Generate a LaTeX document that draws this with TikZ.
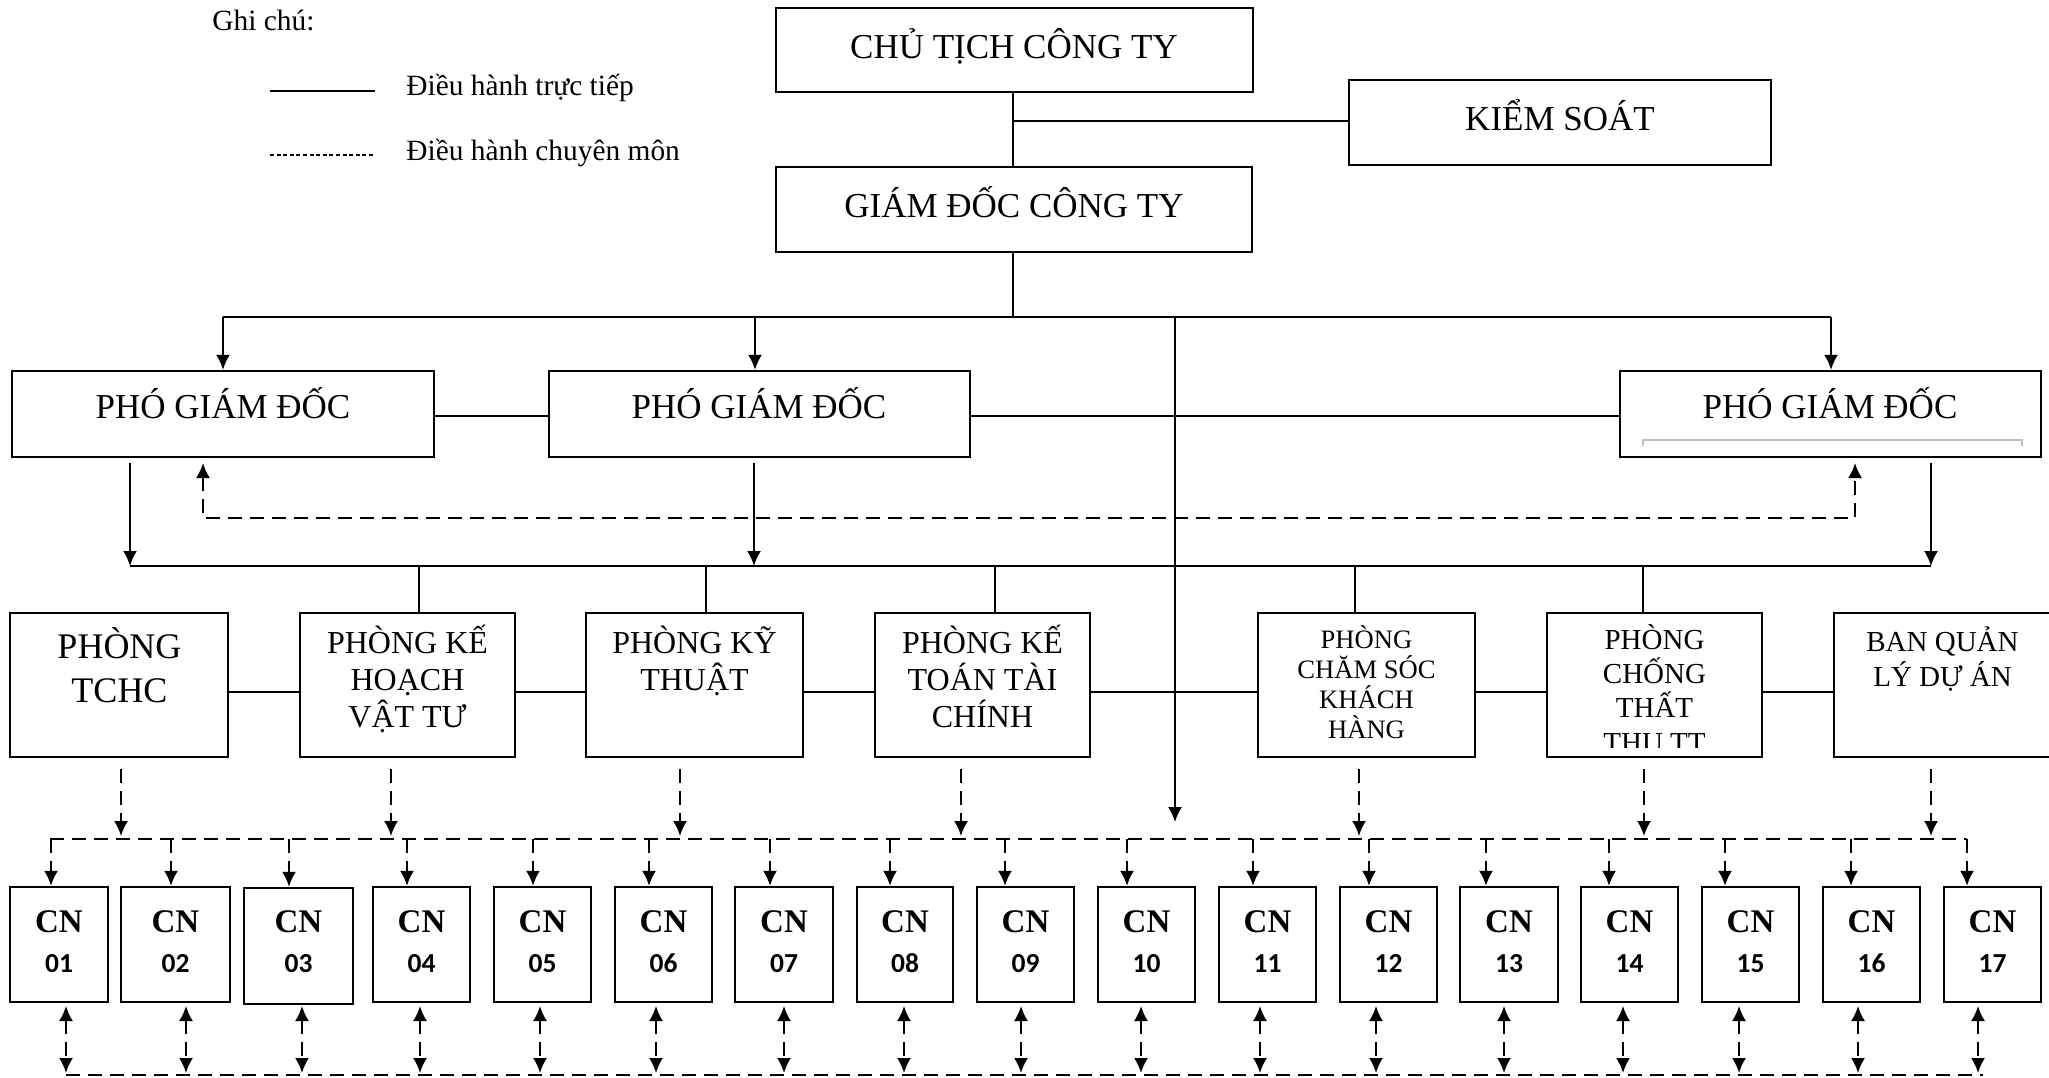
\documentclass[tikz,border=0pt]{standalone}
\usepackage{fontspec}
\setmainfont{Liberation Serif}
\newfontfamily\numfont{Carlito}
\usetikzlibrary{arrows.meta,fit}
\newcommand{\mlines}[3]{{\fontsize{#1}{#2}\selectfont\lineskiplimit=-\maxdimen\vtop{\halign{\hfil##\hfil\cr#3\crcr}}}}
\tikzset{
  obox/.style={draw, line width=1.2pt, inner sep=0pt},
  thinln/.style={line width=1pt},
  conn/.style={line width=1.2pt},
  arr/.style={-{Latex[length=7.5pt,width=7pt]}},
  dsh/.style={line width=1pt, dash pattern=on 7pt off 4pt},
  darr/.style={dsh, -{Latex[length=7.5pt,width=7pt]}},
  bidarr/.style={dsh, {Latex[length=7.5pt,width=7pt]}-{Latex[length=7.5pt,width=7pt]}},
  lbl/.style={anchor=base, inner sep=0pt},
  bigtxt/.style={font=\fontsize{17.5}{21}\selectfont},
  legtxt/.style={font=\fontsize{14.7}{17}\selectfont},
  cntxt/.style={font=\fontsize{16.5}{19}\selectfont\bfseries},
  numtxt/.style={font=\numfont\bfseries\fontsize{13.75}{16}\selectfont}
}
\begin{document}
\begin{tikzpicture}[x=0.5pt,y=-0.5pt]
\useasboundingbox (0,0) rectangle (2049,1077);

% legend
\node[lbl, anchor=base west, legtxt] (gc) at (212,30) {Ghi chú:};
\coordinate (ls1) at (270,91); \coordinate (ls2) at (375,91);
\draw[conn] (ls1) -- (ls2);
\node[lbl, anchor=base west, legtxt] (l1) at (406,95) {Điều hành trực tiếp};
\coordinate (ld1) at (270,155); \coordinate (ld2) at (375,155);
\draw[line width=1pt, dash pattern=on 2pt off 1.3pt] (ld1) -- (ld2);
\node[lbl, anchor=base west, legtxt] (l2) at (406,160) {Điều hành chuyên môn};

% top boxes
\node[obox, fit={(776,8) (1253,92)}] (ct) {};
\node[lbl, bigtxt] (tct) at (1014,58) {CHỦ TỊCH CÔNG TY};
\node[obox, fit={(1349,80) (1771,165)}] (ks) {};
\node[lbl, bigtxt] (tks) at (1560,130) {KIỂM SOÁT};
\node[obox, fit={(776,167) (1252,252)}] (gd) {};
\node[lbl, bigtxt] (tgd) at (1014,217) {GIÁM ĐỐC CÔNG TY};
\draw[thinln] (ct.south -| 1013,0) -- (gd.north -| 1013,0);
\coordinate (kj) at (1013,121);
\draw[conn] (kj) -- (kj -| ks.west);

% bus 1
\coordinate (bus1L) at (223,317); \coordinate (bus1R) at (1831,317);
\draw[thinln] (gd.south -| 1013,0) -- (1013,317);
\draw[conn] (bus1L) -- (bus1R);

% PGD boxes
\node[obox, fit={(12,371) (434,457)}] (p1) {};
\node[obox, fit={(549,371) (970,457)}] (p2) {};
\node[obox, fit={(1620,371) (2041,457)}] (p3) {};
\node[lbl, bigtxt] (tp1) at (223,418) {PHÓ GIÁM ĐỐC};
\node[lbl, bigtxt] (tp2) at (759,418) {PHÓ GIÁM ĐỐC};
\node[lbl, bigtxt] (tp3) at (1830,418) {PHÓ GIÁM ĐỐC};
\draw[black!25, line width=0.8pt] (1643,446) -- (1643,440) -- (2022,440) -- (2022,446);
\draw[thinln, arr] (bus1L) -- (bus1L |- p1.north);
\draw[thinln, arr] (755,317) -- (p2.north -| 755,0);
\draw[thinln, arr] (bus1R) -- (bus1R |- p3.north);
\draw[conn] (p1.east |- 0,416) -- (p2.west |- 0,416);
\draw[conn] (p2.east |- 0,416) -- (p3.west |- 0,416);

% dashed feedback to PGD 1 and 3
\draw[bidarr] (203,463) -- (203,518) -- (1855,518) -- (1855,463);

% bus 2
\coordinate (bus2L) at (130,566); \coordinate (bus2R) at (1931,566);
\draw[thinln, arr] (130,463) -- (bus2L);
\draw[thinln, arr] (754,463) -- (754,566);
\draw[thinln, arr] (1931,463) -- (bus2R);
\draw[conn] (bus2L) -- (bus2R);

% departments
\node[obox, fit={(10,613) (228,757)}] (tchc) {};
\node[obox, fit={(300,613) (515,757)}] (kh) {};
\node[obox, fit={(586,613) (803,757)}] (kt) {};
\node[obox, fit={(875,613) (1090,757)}] (kttc) {};
\node[obox, fit={(1258,613) (1475,757)}] (cskh) {};
\node[obox, fit={(1547,613) (1762,757)}] (ctt) {};
\begin{scope}
\clip (0,0) rectangle (2049,1077);
\node[obox, fit={(1834,613) (2064,757)}] (bql) {};
\end{scope}

\node[lbl] (ttchc) at (119.5,658) {\mlines{18}{22}{PHÒNG\cr TCHC}};
\node[lbl] (tkh) at (407.5,653) {\mlines{16}{18.5}{PHÒNG KẾ\cr HOẠCH\cr VẬT TƯ}};
\node[lbl] (tkt) at (694.5,653) {\mlines{16}{18.5}{PHÒNG KỸ\cr THUẬT}};
\node[lbl] (tkttc) at (982.5,653) {\mlines{16}{18.5}{PHÒNG KẾ\cr TOÁN TÀI\cr CHÍNH}};
\node[lbl] (tcskh) at (1366.5,648) {\mlines{13.3}{15}{PHÒNG\cr CHĂM SÓC\cr KHÁCH\cr HÀNG}};
\begin{scope}
\clip (1547,613) rectangle (1762,747);
\node[lbl] (tctt) at (1654.5,649) {\mlines{14.5}{17.2}{PHÒNG\cr CHỐNG\cr THẤT\cr THU TT}};
\end{scope}
\node[lbl] (tbql) at (1942.5,651) {\mlines{14.5}{17.5}{BAN QUẢN\cr LÝ DỰ ÁN}};

\foreach \xx/\nd in {419/kh,706/kt,995/kttc,1355/cskh,1643/ctt}
  \draw[thinln] (\xx,566) -- (\nd.north -| \xx,0);
\coordinate (rowy) at (0,692);
\draw[conn] (tchc.east |- rowy) -- (kh.west |- rowy);
\draw[conn] (kh.east |- rowy) -- (kt.west |- rowy);
\draw[conn] (kt.east |- rowy) -- (kttc.west |- rowy);
\draw[conn] (kttc.east |- rowy) -- (cskh.west |- rowy);
\draw[conn] (cskh.east |- rowy) -- (ctt.west |- rowy);
\draw[conn] (ctt.east |- rowy) -- (bql.west |- rowy);

% long arrow from bus1
\draw[thinln, arr] (1175,317) -- (1175,822);

% dashed arrows from departments
\foreach \xx in {121,391,680,961,1359,1644,1931}
  \draw[darr] (\xx,769) -- (\xx,836);

% dashed buses
\coordinate (bus3L) at (50,839); \coordinate (bus3R) at (1967,839);
\draw[dsh] (bus3L) -- (bus3R);
\coordinate (bus4L) at (66,1075); \coordinate (bus4R) at (1983,1075);
\draw[dsh] (bus4L) -- (bus4R);

% CN boxes
\foreach \i/\xa/\xb/\ya/\yb/\ta/\ba in {
 01/10/108/887/1002/51/66, 02/121/230/887/1002/171/186, 03/244/353/888/1004/289/302,
 04/373/470/887/1002/407/420, 05/494/591/887/1002/533/540, 06/615/712/887/1002/649/656,
 07/735/833/887/1002/770/784, 08/857/953/887/1002/890/904, 09/977/1074/887/1002/1005/1021,
 10/1098/1195/887/1002/1127/1141, 11/1219/1316/887/1002/1253/1260, 12/1340/1437/887/1002/1369/1376,
 13/1460/1558/887/1002/1486/1504, 14/1581/1678/887/1002/1609/1623, 15/1702/1799/887/1002/1725/1739,
 16/1823/1920/887/1002/1851/1858, 17/1944/2041/887/1002/1967/1978}{
  \node[obox, fit={(\xa,\ya) (\xb,\yb)}] (cn\i) {};
  \node[lbl, cntxt] (cnt\i) at (cn\i.center |- 0,932) {CN};
  \node[lbl, numtxt] (cnn\i) at (cn\i.center |- 0,972) {\i};
  \draw[darr] (\ta,839) -- (cn\i.north -| \ta,0);
  \draw[bidarr] (\ba,1006) -- (\ba,1073);
}
\end{tikzpicture}
\end{document}
